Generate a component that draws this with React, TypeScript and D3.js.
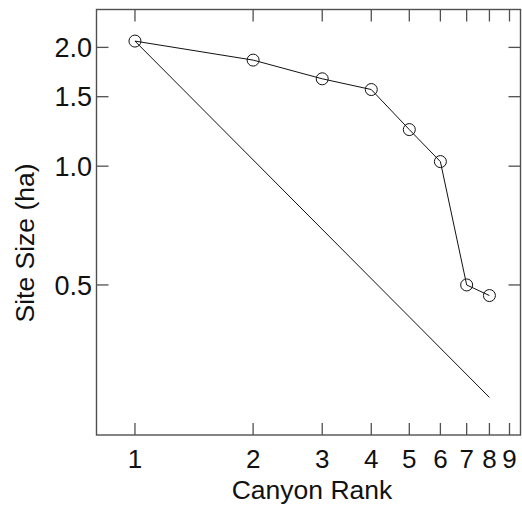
import React from "react";
import * as d3 from "d3";

// Canyon rank vs. site size (ha), log–log
const ranks = [1, 2, 3, 4, 5, 6, 7, 8];
const siteSizes = [2.075, 1.857, 1.665, 1.564, 1.238, 1.027, 0.5, 0.47];
const xTickValues = [1, 2, 3, 4, 5, 6, 7, 8, 9];
const yTickValues = [0.5, 1.0, 1.5, 2.0];

const W = 522;
const H = 510;
const margin = { left: 96.5, right: 1.5, top: 9.5, bottom: 75 };
const FONT = "'Liberation Sans', Arial, Helvetica, sans-serif";
const FRAME = "#505050";
const TICK = 12;

export default function App() {
  const x = d3
    .scaleLog()
    .domain([0.798, 9.6])
    .range([margin.left, W - margin.right]);
  const y = d3
    .scaleLog()
    .domain([0.2083, 2.495])
    .range([H - margin.bottom, margin.top]);

  const x0 = margin.left;
  const x1 = W - margin.right;
  const y0 = margin.top;
  const y1 = H - margin.bottom;

  const pts: [number, number][] = ranks.map((r, i) => [r, siteSizes[i]]);
  const line = d3
    .line<[number, number]>()
    .x((d) => x(d[0]))
    .y((d) => y(d[1]));

  // Rank-size (Zipf) expectation: size of largest site divided by rank
  const zipf: [number, number][] = [
    [1, siteSizes[0]],
    [8, siteSizes[0] / 8],
  ];

  return (
    <svg
      width={W}
      height={H}
      style={{ position: "absolute", left: 0, top: 0, background: "#fff" }}
      fontFamily={FONT}
    >
      <rect
        x={x0}
        y={y0}
        width={x1 - x0}
        height={y1 - y0}
        fill="none"
        stroke={FRAME}
        strokeWidth={1.4}
      />
      {xTickValues.map((t) => (
        <g key={"x" + t}>
          <line x1={x(t)} x2={x(t)} y1={y1} y2={y1 - TICK} stroke={FRAME} strokeWidth={1.3} />
          <line x1={x(t)} x2={x(t)} y1={y0} y2={y0 + TICK} stroke={FRAME} strokeWidth={1.3} />
          <text x={x(t)} y={468} fontSize={26} textAnchor="middle" fill="#111">
            {t}
          </text>
        </g>
      ))}
      {yTickValues.map((t) => (
        <g key={"y" + t}>
          <line x1={x0} x2={x0 + TICK} y1={y(t)} y2={y(t)} stroke={FRAME} strokeWidth={1.3} />
          <line x1={x1} x2={x1 - TICK} y1={y(t)} y2={y(t)} stroke={FRAME} strokeWidth={1.3} />
          <text
            x={92}
            y={y(t)}
            dy="0.36em"
            fontSize={27}
            textAnchor="end"
            fill="#111"
          >
            {t.toFixed(1)}
          </text>
        </g>
      ))}
      <path d={line(zipf) ?? ""} fill="none" stroke="#111" strokeWidth={1} />
      <path d={line(pts) ?? ""} fill="none" stroke="#111" strokeWidth={1} />
      {pts.map((p, i) => (
        <circle
          key={i}
          cx={x(p[0])}
          cy={y(p[1])}
          r={6}
          fill="none"
          stroke="#111"
          strokeWidth={1}
        />
      ))}
      <text x={312} y={499} fontSize={26.5} textAnchor="middle" fill="#111">
        Canyon Rank
      </text>
      <text
        transform={`translate(34, 243) rotate(-90)`}
        fontSize={26.5}
        textAnchor="middle"
        fill="#111"
      >
        Site Size (ha)
      </text>
    </svg>
  );
}
